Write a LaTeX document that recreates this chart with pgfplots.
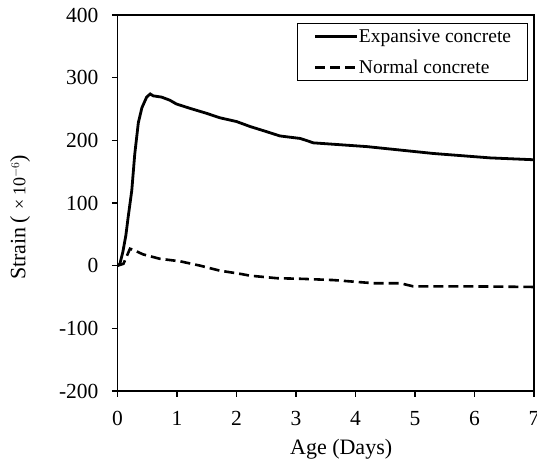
\documentclass[border=0pt]{standalone}
\usepackage{fontspec}
\setmainfont{Liberation Serif}
\usepackage{pgfplots}
\pgfplotsset{compat=1.18}

\begin{document}
\begin{tikzpicture}
\begin{axis}[
  at={(0,0)}, anchor=south west,
  scale only axis, width=416.5bp, height=376bp,
  xmin=0, xmax=7, ymin=-200, ymax=400,
  xtick={0,1,...,7}, ytick={-200,-100,...,400},
  tick align=outside, tick pos=left,
  major tick length=5.5bp,
  axis line style={line width=1.6bp},
  every tick/.style={line width=1.6bp, black},
  /pgf/number format/assume math mode=true,
  ticklabel style={font=\fontsize{21.5bp}{25bp}\selectfont},
  yticklabel style={xshift=-10bp},
  xticklabel style={yshift=-11bp},
  xlabel={Age (Days)},
  ylabel={Strain\hspace{4bp}(\hspace{6bp}{\fontsize{18bp}{20bp}\selectfont ×\hspace{4bp}10$^{-6}$})},
  every axis x label/.style={at={(axis description cs:0.537,-0.155)}, anchor=center,
    font=\fontsize{22bp}{26bp}\selectfont},
  every axis y label/.style={at={(axis description cs:-0.234,0.462)}, rotate=90, anchor=center,
    font=\fontsize{22bp}{26bp}\selectfont},
  legend cell align=left,
  legend style={at={(0.9856,0.979)}, anchor=north east,
    draw=black, line width=0.8bp,
    font=\fontsize{19.5bp}{23bp}\selectfont,
    inner xsep=16bp, inner ysep=2bp, row sep=9bp,
    nodes={inner xsep=0.5bp, inner ysep=1bp, text height=16bp, text depth=4bp}},
  legend image code/.code={\draw[line width=2.8bp,#1] (0bp,0bp) -- (42bp,0bp);},
]
\addplot[black, line width=2.8bp] coordinates {
  (0,0) (0.04,3) (0.09,22) (0.14,48) (0.18,78) (0.24,120) (0.29,178)
  (0.35,228) (0.41,252) (0.49,269) (0.55,274) (0.60,271) (0.74,269)
  (0.88,264) (0.99,258) (1.22,251) (1.50,243) (1.72,236) (2.0,230)
  (2.23,222) (2.5,214) (2.73,207) (3.07,203) (3.2,199) (3.29,196)
  (4.19,190) (5.31,179) (6.26,172) (7.0,169)
};
\addlegendentry{Expansive concrete}
\addplot[black, line width=2.6bp, dash pattern=on 10bp off 5bp] coordinates {
  (0,0) (0.1,3) (0.21,27) (0.27,25) (0.43,18) (0.71,11) (1.05,7)
  (1.39,0) (1.72,-8) (2.06,-13) (2.23,-16) (2.68,-20) (3.1,-21)
  (3.63,-23) (4.30,-28) (4.75,-28) (4.97,-33) (5.87,-33) (7.0,-34)
};
\addlegendentry{Normal concrete}
\end{axis}
\pgfresetboundingbox
\path[use as bounding box] (-117.5bp,-79bp) rectangle (419.5bp,391bp);
\end{tikzpicture}
\end{document}
